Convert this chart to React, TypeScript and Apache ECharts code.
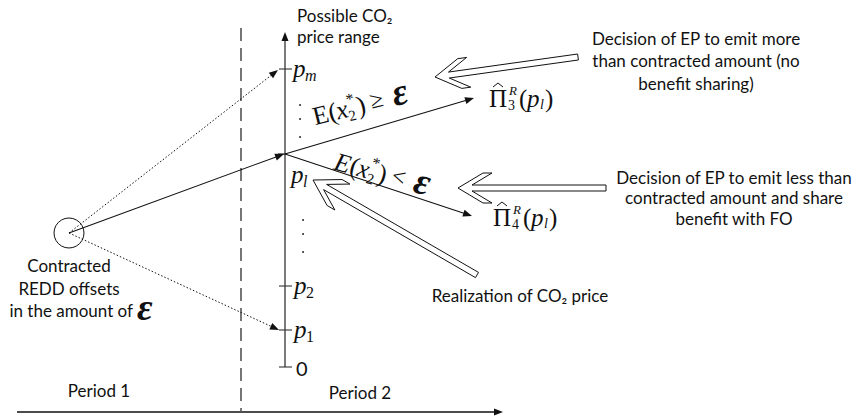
import React, { useEffect, useRef } from 'react';
import * as echarts from 'echarts';

// ---- content (labels) ----
const periodLabels = ['Period 1', 'Period 2'];
const priceSubscripts = ['m', 'l', '2', '1'];
const priceSubItalic = [true, true, false, false];
const zeroLabel = '0';
const axisTitle = ['Possible CO₂', 'price range'];
const offerLabel = ['Contracted', 'REDD offsets', 'in the amount of'];
const decisionMore = ['Decision of EP to emit more', 'than contracted amount (no', 'benefit sharing)'];
const decisionLess = ['Decision of EP to emit less than', 'contracted amount and share', 'benefit with FO'];
const realizationLabel = 'Realization of CO₂ price';
const payoffIndices = ['3', '4'];
const conditionSigns = ['≥', '<'];

// ---- layout ----
const SERIF = '"Liberation Serif", "Times New Roman", serif';
const SANS = 'Lato, "Open Sans", sans-serif';
const INK = '#111';
const FS = 17;
const AX = 285;
const tickY = [69, 154, 286, 330];
const zeroY = 367;
const C = [69, 233];
const P = [AX, 154];

function line(x1: number, y1: number, x2: number, y2: number, style: any = {}) {
  return { type: 'line', shape: { x1, y1, x2, y2 }, style: { stroke: INK, lineWidth: 1.1, ...style } };
}
function head(x1: number, y1: number, x2: number, y2: number, len = 9, half = 3.5) {
  const dx = x2 - x1, dy = y2 - y1, L = Math.hypot(dx, dy);
  const ux = dx / L, uy = dy / L;
  const bx = x2 - ux * len, by = y2 - uy * len;
  return {
    type: 'polygon',
    shape: { points: [[x2, y2], [bx - uy * half, by + ux * half], [bx + uy * half, by - ux * half]] },
    style: { fill: INK },
  };
}
function arrow(x1: number, y1: number, x2: number, y2: number, style: any = {}) {
  const dx = x2 - x1, dy = y2 - y1, L = Math.hypot(dx, dy);
  const ex = x2 - (dx / L) * 7, ey = y2 - (dy / L) * 7;
  return [line(x1, y1, ex, ey, style), head(x1, y1, x2, y2)];
}
function txt(x: number, y: number, text: string, o: any = {}) {
  return {
    type: 'text', x, y,
    style: {
      text, fill: o.fill || INK, fontSize: o.size || FS, fontFamily: o.family || SANS,
      fontStyle: o.italic ? 'italic' : 'normal', fontWeight: o.bold ? 'bold' : 'normal',
      align: o.align || 'left', verticalAlign: o.valign || 'middle',
    },
  };
}
function blockArrow(tip: number[], tail: number[]) {
  const L = Math.hypot(tail[0] - tip[0], tail[1] - tip[1]);
  const d = [(tail[0] - tip[0]) / L, (tail[1] - tip[1]) / L];
  const n = [-d[1], d[0]];
  const HL = 25, HW = 15, T = 9, S = 3;
  const pt = (a: number, b: number) => [tip[0] + d[0] * a + n[0] * b, tip[1] + d[1] * a + n[1] * b];
  const k = S / HW;
  const pts = [
    pt(0, 0),
    pt(HL, HW),
    pt(HL + T, HW),
    pt(T + HL * k, S),
    [tail[0] + n[0] * S, tail[1] + n[1] * S],
    [tail[0] - n[0] * S, tail[1] - n[1] * S],
    pt(T + HL * k, -S),
    pt(HL + T, -HW),
    pt(HL, -HW),
  ];
  return { type: 'polygon', shape: { points: pts }, style: { fill: '#fff', stroke: INK, lineWidth: 1 } };
}
function pLabel(x: number, y: number, sub: string, subItalic: boolean) {
  return [
    txt(x, y, 'p', { family: SERIF, size: 25, italic: true }),
    txt(x + 12, y + 7, sub, { family: SERIF, size: 16, italic: subItalic }),
  ];
}
function payoff(x: number, y: number, idx: string) {
  return {
    type: 'group', x, y,
    children: [
      txt(0, 0, 'Π', { family: SERIF, size: 25 }),
      { type: 'polyline', shape: { points: [[4, -11], [9, -15], [14, -11]] }, style: { stroke: INK, lineWidth: 1, fill: 'none' } },
      txt(19, 7, idx, { family: SERIF, size: 14 }),
      txt(20, -8, 'R', { family: SERIF, size: 13, italic: true }),
      txt(30, 0, '(', { family: SERIF, size: 25 }),
      txt(38, 0, 'p', { family: SERIF, size: 25, italic: true }),
      txt(51, 6, 'l', { family: SERIF, size: 14, italic: true }),
      txt(56, 0, ')', { family: SERIF, size: 25 }),
    ],
  };
}
function condition(x: number, y: number, rot: number, sign: string, italicE: boolean) {
  return {
    type: 'group', x, y, rotation: rot,
    children: [
      txt(0, 0, 'E', { family: SERIF, size: 26, italic: italicE }),
      txt(16, 0, '(', { family: SERIF, size: 26 }),
      txt(24, 0, 'x', { family: SERIF, size: 26, italic: true }),
      txt(35, 8, '2', { family: SERIF, size: 15 }),
      txt(36, -9, '*', { family: SERIF, size: 16 }),
      txt(45, 0, ')', { family: SERIF, size: 26 }),
      txt(59, -2, sign, { family: SERIF, size: 24 }),
      txt(82, -4, 'ε', { family: SERIF, size: 38, italic: true, bold: true }),
    ],
  };
}

export default function App() {
  const ref = useRef<HTMLDivElement>(null);
  useEffect(() => {
    if (!ref.current) return;
    const chart = echarts.init(ref.current, undefined, { renderer: 'svg' });
    const els: any[] = [];

    // period axis and divider
    els.push(...arrow(17, 412, 503, 412, { lineWidth: 1.3 }));
    els.push(line(241, 28, 241, 412, { stroke: '#555', lineWidth: 1.6, lineDash: [13, 7] }));

    // price axis
    els.push(...arrow(AX, zeroY, AX, 32, { stroke: '#333', lineWidth: 1.3 }));
    [...tickY, zeroY].forEach((y, i) => {
      if (i === 1) els.push(line(278, y, AX, y));
      else els.push(line(279, y, 292, y, { stroke: '#333' }));
    });
    els.push(...pLabel(293, tickY[0] - 1, priceSubscripts[0], priceSubItalic[0]));
    els.push(...pLabel(291, 174, priceSubscripts[1], priceSubItalic[1]));
    els.push(...pLabel(294, tickY[2] - 1, priceSubscripts[2], priceSubItalic[2]));
    els.push(...pLabel(294, tickY[3] - 1, priceSubscripts[3], priceSubItalic[3]));
    els.push(txt(296, zeroY + 1, zeroLabel, { size: 20 }));
    [105, 119, 137, 220, 234, 252].forEach((y, i) => {
      els.push({ type: 'circle', shape: { cx: i < 3 ? 300 : 303, cy: y, r: 0.9 }, style: { fill: INK } });
    });
    els.push(txt(297, 15, axisTitle[0]));
    els.push(txt(297, 36, axisTitle[1]));

    // contracted offsets node
    els.push({ type: 'circle', shape: { cx: C[0], cy: C[1], r: 15 }, style: { fill: 'none', stroke: INK, lineWidth: 1 } });
    const dotted = { lineDash: [1.5, 2], lineWidth: 1 };
    els.push(...arrow(C[0], C[1], 278, 70, dotted));
    els.push(...arrow(C[0], C[1], P[0] - 1, P[1]));
    els.push(...arrow(C[0], C[1], 279, 330, dotted));
    els.push(txt(69, 265, offerLabel[0], { align: 'center' }));
    els.push(txt(69, 288, offerLabel[1], { align: 'center' }));
    els.push(txt(133, 310, offerLabel[2], { align: 'right' }));
    els.push(txt(137, 307, 'ε', { family: SERIF, size: 38, italic: true, bold: true }));

    // outcomes
    els.push(...arrow(P[0], P[1], 474, 98));
    els.push(...arrow(P[0], P[1], 472, 216));
    els.push(payoff(489, 98, payoffIndices[0]));
    els.push(payoff(493, 217, payoffIndices[1]));
    els.push(condition(313, 117, 0.24, conditionSigns[0], false));
    els.push(condition(335, 161, -0.27, conditionSigns[1], true));

    // block arrows
    els.push(blockArrow([435, 77], [578, 57]));
    els.push(blockArrow([458, 188], [606, 188]));
    els.push(blockArrow([313, 180], [477, 275]));

    // annotations
    decisionMore.forEach((s, i) => els.push(txt(696, 38 + i * 22.5, s, { align: 'center' })));
    decisionLess.forEach((s, i) => els.push(txt(734, 177 + i * 20.5, s, { align: 'center' })));
    els.push(txt(520, 295, realizationLabel, { align: 'center' }));
    els.push(txt(99, 390, periodLabels[0], { align: 'center' }));
    els.push(txt(360, 392, periodLabels[1], { align: 'center' }));

    chart.setOption({ animation: false, graphic: { elements: els } });
    return () => chart.dispose();
  }, []);
  return <div ref={ref} style={{ position: 'fixed', left: 0, top: 0, width: 854, height: 419, background: '#fff' }} />;
}
